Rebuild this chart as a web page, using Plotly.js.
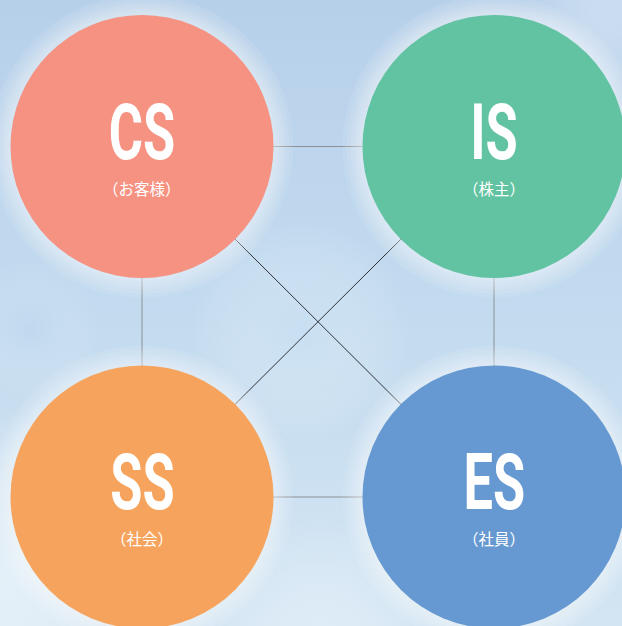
<!DOCTYPE html>
<html><head><meta charset="utf-8">
<script src="https://cdn.plot.ly/plotly-3.0.1.min.js"></script>
<style>html,body{margin:0;padding:0;overflow:hidden;}#chart{width:622px;height:626px;}</style>
</head><body><div id="chart"></div>
<script>
// ---- data ----
const labels = ['CS', 'IS', 'SS', 'ES'];
const subLabels = ['（お客様）', '（株主）', '（社会）', '（社員）'];
const colX = [142, 494, 142, 494];
const rowY = [146.5, 146.5, 497, 497];
const radius = [131.5, 131.5, 131.5, 131.5];
const colors = ['#f59282', '#61c3a1', '#f6a45d', '#6699d1'];
// links: pairs of node indices; side links are grey, diagonals dark
const sideLinks = [[0, 1], [2, 3], [0, 2], [1, 3]];
const diagLinks = [[0, 3], [1, 2]];

// ---- background image (sky gradient) ----
function makeBg() {
  const c = document.createElement('canvas');
  c.width = 622; c.height = 626;
  const g = c.getContext('2d');
  const lg = g.createLinearGradient(0, 0, 0, 626);
  lg.addColorStop(0, '#b7d0ea');
  lg.addColorStop(0.5, '#c3dbef');
  lg.addColorStop(1, '#d3e5f3');
  g.fillStyle = lg; g.fillRect(0, 0, 622, 626);
  const blobs = [[0, 580, 170, 'rgba(242,249,253,0.6)'], [300, 330, 110, 'rgba(205,228,245,0.45)'],
                 [610, 10, 90, 'rgba(225,236,248,0.45)'], [320, 626, 110, 'rgba(235,244,251,0.45)'],
                 [30, 330, 70, 'rgba(180,208,234,0.3)']];
  blobs.forEach(b => {
    const rg = g.createRadialGradient(b[0], b[1], 0, b[0], b[1], b[2]);
    rg.addColorStop(0, b[3]); rg.addColorStop(1, 'rgba(255,255,255,0)');
    g.fillStyle = rg; g.fillRect(0, 0, 622, 626);
  });
  return c.toDataURL('image/png');
}

const shapes = [];
// links
sideLinks.forEach(p => shapes.push({type: 'line', xref: 'x', yref: 'y', layer: 'below',
  x0: colX[p[0]], y0: rowY[p[0]], x1: colX[p[1]], y1: rowY[p[1]],
  line: {color: '#8c8f94', width: 1}}));
diagLinks.forEach(p => shapes.push({type: 'line', xref: 'x', yref: 'y', layer: 'below',
  x0: colX[p[0]], y0: rowY[p[0]], x1: colX[p[1]], y1: rowY[p[1]],
  line: {color: '#2e3238', width: 1}}));
// glow + circles
labels.forEach((l, i) => {
  [20, 16, 12, 9, 6, 3].forEach(d => shapes.push({type: 'circle', xref: 'x', yref: 'y', layer: 'below',
    x0: colX[i] - radius[i] - d, x1: colX[i] + radius[i] + d,
    y0: rowY[i] - radius[i] - d, y1: rowY[i] + radius[i] + d,
    fillcolor: 'rgba(255,255,255,0.09)', line: {width: 0}}));
  shapes.push({type: 'circle', xref: 'x', yref: 'y', layer: 'below',
    x0: colX[i] - radius[i], x1: colX[i] + radius[i],
    y0: rowY[i] - radius[i], y1: rowY[i] + radius[i],
    fillcolor: colors[i], line: {width: 0}});
});

const annotations = [];
labels.forEach((l, i) => {
  annotations.push({x: colX[i], y: rowY[i] - 14, xref: 'x', yref: 'y', text: l,
    showarrow: false, xanchor: 'center', yanchor: 'middle',
    font: {family: 'Roboto, "DejaVu Sans", sans-serif', size: 77, weight: 700, color: '#ffffff'}});
  annotations.push({x: colX[i], y: rowY[i] + 41, xref: 'x', yref: 'y', text: subLabels[i],
    showarrow: false, xanchor: 'center', yanchor: 'middle',
    font: {family: '"Noto Sans CJK JP", "Noto Sans CJK SC", sans-serif', size: 15.5, color: '#ffffff'}});
});

const layout = {
  width: 622, height: 626,
  margin: {l: 0, r: 0, t: 0, b: 0, pad: 0},
  paper_bgcolor: '#c3daee', plot_bgcolor: 'rgba(0,0,0,0)',
  showlegend: false,
  xaxis: {range: [0, 622], visible: false, fixedrange: true},
  yaxis: {range: [626, 0], visible: false, fixedrange: true},
  images: [{source: makeBg(), xref: 'paper', yref: 'paper', x: 0, y: 1, sizex: 1, sizey: 1,
    xanchor: 'left', yanchor: 'top', sizing: 'stretch', layer: 'below'}],
  shapes: shapes,
  annotations: annotations
};

const trace = {x: colX, y: rowY, type: 'scatter', mode: 'markers',
  marker: {size: 1, color: 'rgba(0,0,0,0)'}, hoverinfo: 'skip', text: labels};

// condense the big letters horizontally (the original uses a condensed typeface)
function condense() {
  const s = 0.68;
  document.querySelectorAll('#chart .annotation-text').forEach((el, k) => {
    if (k % 2 !== 0) return;
    el.removeAttribute('transform');
    const bb = el.getBBox();
    const cx = bb.x + bb.width / 2;
    el.setAttribute('transform', `translate(${cx * (1 - s)},0) scale(${s},1)`);
  });
}
Plotly.newPlot('chart', [trace], layout, {displayModeBar: false, staticPlot: true}).then(condense);
</script>
</body></html>
